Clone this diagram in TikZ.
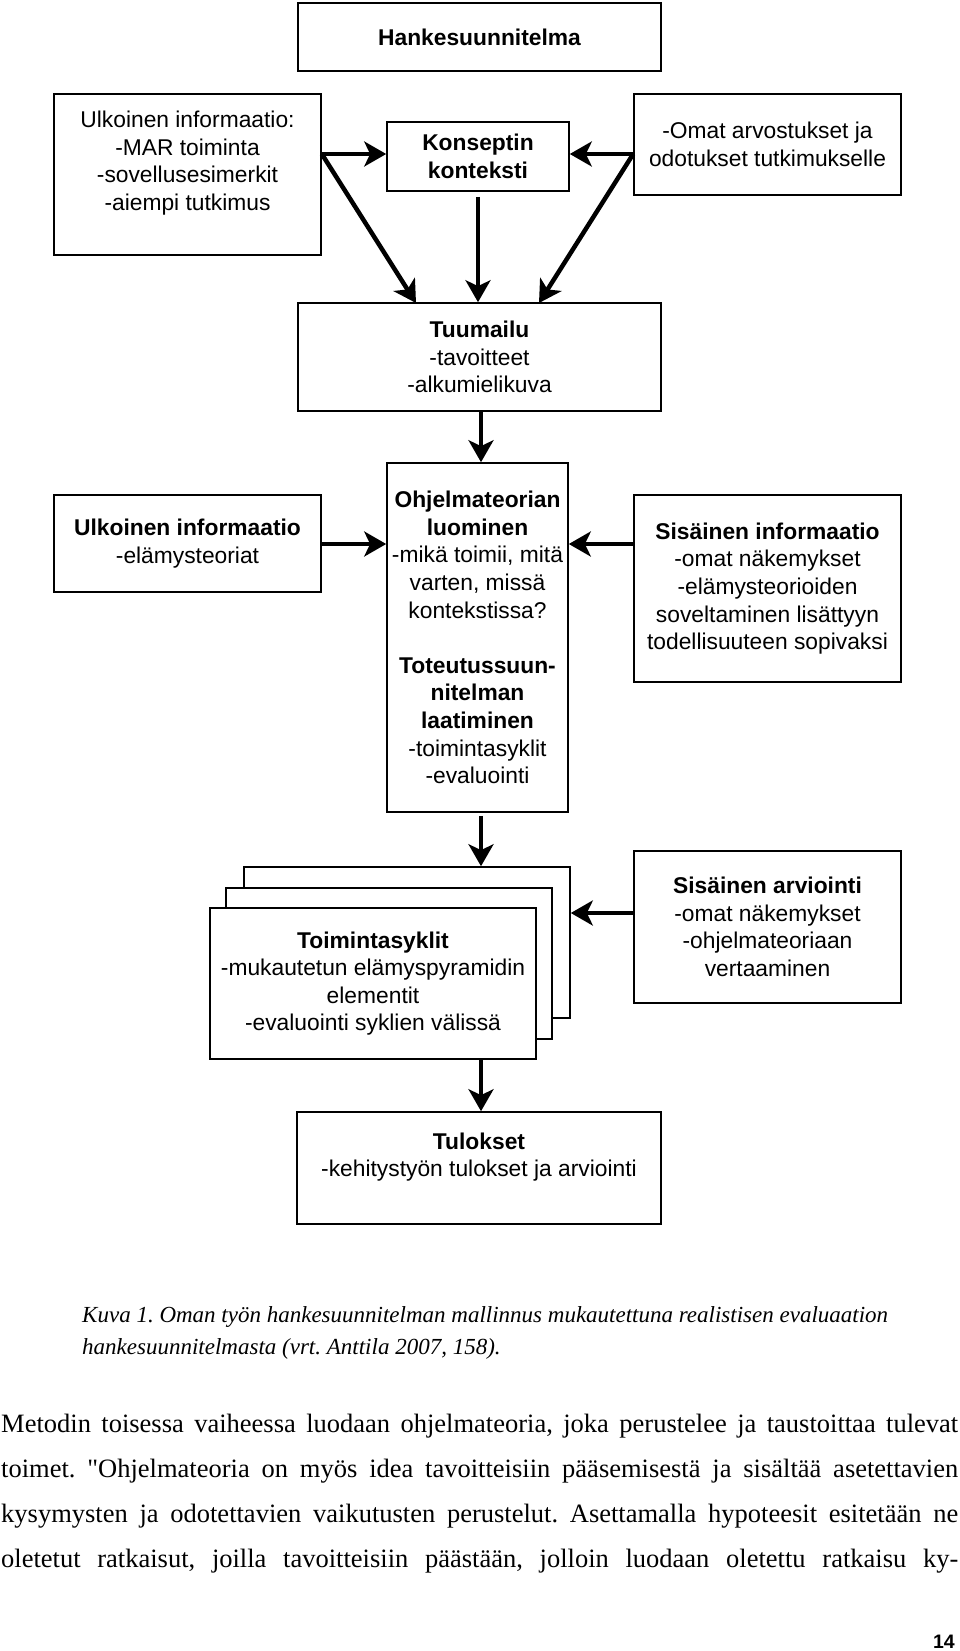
\documentclass[tikz,border=0pt]{standalone}
\usepackage{fontspec}
\setmainfont{Liberation Serif}
\newfontfamily\dsans{Liberation Sans}
\newfontfamily\plainserif{Liberation Serif}[Ligatures=TeXOff]
\usetikzlibrary{arrows.meta,calc}
\frenchspacing
\tikzset{
  box/.style={draw, line width=1.6pt, inner sep=0pt, fill=white},
  txt/.style={font=\dsans\fontsize{22.8}{27.6}\selectfont, align=center, inner sep=0pt},
  arr/.style={line width=4.5pt, -{Stealth[length=22pt,width=25pt,inset=6pt]}},
  body/.style={font=\frenchspacing\fontsize{26.5}{30}\selectfont, inner sep=0pt, anchor=base west},
  capt/.style={font=\frenchspacing\itshape\fontsize{23}{27}\selectfont, inner sep=0pt, anchor=base west}
}
\begin{document}
\begin{tikzpicture}[x=1pt,y=-1pt]
\useasboundingbox (0,0) rectangle (960,1651);

% boxes
\node[box, txt, minimum width=363pt, minimum height=68pt] (hs) at (479.5,37) {\bfseries Hankesuunnitelma};
\node[box, minimum width=267pt, minimum height=161pt] (u1) at (187.5,174.5) {};
\node[txt] (u1t) at (187.5,163) {Ulkoinen informaatio:\\-MAR toiminta\\-sovellusesimerkit\\-aiempi tutkimus};
\node[box, txt, minimum width=182pt, minimum height=69pt] (k) at (478,156.5) {\bfseries Konseptin\\\bfseries konteksti};
\node[box, txt, minimum width=267pt, minimum height=101pt] (om) at (767.5,144.5) {-Omat arvostukset ja\\odotukset tutkimukselle};
\node[box, txt, minimum width=363pt, minimum height=108pt] (tu) at (479.5,357) {\bfseries Tuumailu\\-tavoitteet\\-alkumielikuva};
\node[box, txt, minimum width=267pt, minimum height=97pt] (u2) at (187.5,543.5) {\bfseries Ulkoinen informaatio\\-elämysteoriat};
\node[box, txt, minimum width=181pt, minimum height=349pt] (oh) at (477.5,637.5) {\bfseries Ohjelmateorian\\\bfseries luominen\\-mikä toimii, mitä\\varten, missä\\kontekstissa?\\[27.6pt]\bfseries Toteutussuun-\\\bfseries nitelman\\\bfseries laatiminen\\-toimintasyklit\\-evaluointi};
\node[box, txt, minimum width=267pt, minimum height=187pt] (si) at (767.5,588.5) {\bfseries Sisäinen informaatio\\-omat näkemykset\\-elämysteorioiden\\soveltaminen lisättyyn\\todellisuuteen sopivaksi};
\node[box, minimum width=326pt, minimum height=151pt] (c3) at (407,942.5) {};
\node[box, minimum width=326pt, minimum height=151pt] (c2) at (389,963.5) {};
\node[box, txt, minimum width=326pt, minimum height=151pt] (c1) at (373,983.5) {\bfseries Toimintasyklit\\-mukautetun elämyspyramidin\\elementit\\-evaluointi syklien välissä};
\node[box, txt, minimum width=267pt, minimum height=152pt] (sa) at (767.5,927) {\bfseries Sisäinen arviointi\\-omat näkemykset\\-ohjelmateoriaan\\vertaaminen};
\node[box, minimum width=364pt, minimum height=112pt] (tl) at (479,1168) {};
\node[txt] (tlt) at (479,1157) {\bfseries Tulokset\\-kehitystyön tulokset ja arviointi};

% connector points
\coordinate (ua) at (u1.east |- 0,154);
\coordinate (oa) at (om.west |- 0,154);
\coordinate (ta) at (416,303);
\coordinate (tb) at (539,303);

% arrows
\draw[arr] (ua) -- (ua -| k.west);
\draw[arr] (oa) -- (oa -| k.east);
\draw[arr] (ua) -- (ta);
\draw[arr] (oa) -- (tb);
\draw[arr] ([yshift=-5pt]k.south) -- (k.south |- tu.north);
\draw[arr] (tu.south -| 481,0) -- (oh.north -| 481,0);
\draw[arr] (u2.east |- 0,544) -- (oh.west |- 0,544);
\draw[arr] (si.west |- 0,544) -- (oh.east |- 0,544);
\draw[arr] ([yshift=-3pt]oh.south -| 481,0) -- (c3.north -| 481,0);
\draw[arr] (sa.west |- 0,913) -- (c3.east |- 0,913);
\draw[arr] (c1.south -| 481,0) -- (tl.north -| 481,0);

% caption and body text
\node[capt] (cap1) at (82,1322) {Kuva 1. Oman työn hankesuunnitelman mallinnus mukautettuna realistisen evaluaation};
\node[capt] (cap2) at (82,1354) {hankesuunnitelmasta (vrt. Anttila 2007, 158).};
\node[body] (b1) at (1,1432) {\makebox[957pt][s]{Metodin toisessa vaiheessa luodaan ohjelmateoria, joka perustelee ja taustoittaa tulevat}};
\node[body] (b2) at (1,1477) {\makebox[957pt][s]{toimet. {\plainserif\symbol{"22}}Ohjelmateoria on myös idea tavoitteisiin pääsemisestä ja sisältää asetettavien}};
\node[body] (b3) at (1,1522) {\makebox[957pt][s]{kysymysten ja odotettavien vaikutusten perustelut. Asettamalla hypoteesit esitetään ne}};
\node[body] (b4) at (1,1567) {\makebox[957pt][s]{oletetut ratkaisut, joilla tavoitteisiin päästään, jolloin luodaan oletettu ratkaisu ky-}};
\node[font=\dsans\bfseries\fontsize{19.5}{20}\selectfont, inner sep=0pt, anchor=base east] (pg) at (955,1648) {14};
\end{tikzpicture}
\end{document}
